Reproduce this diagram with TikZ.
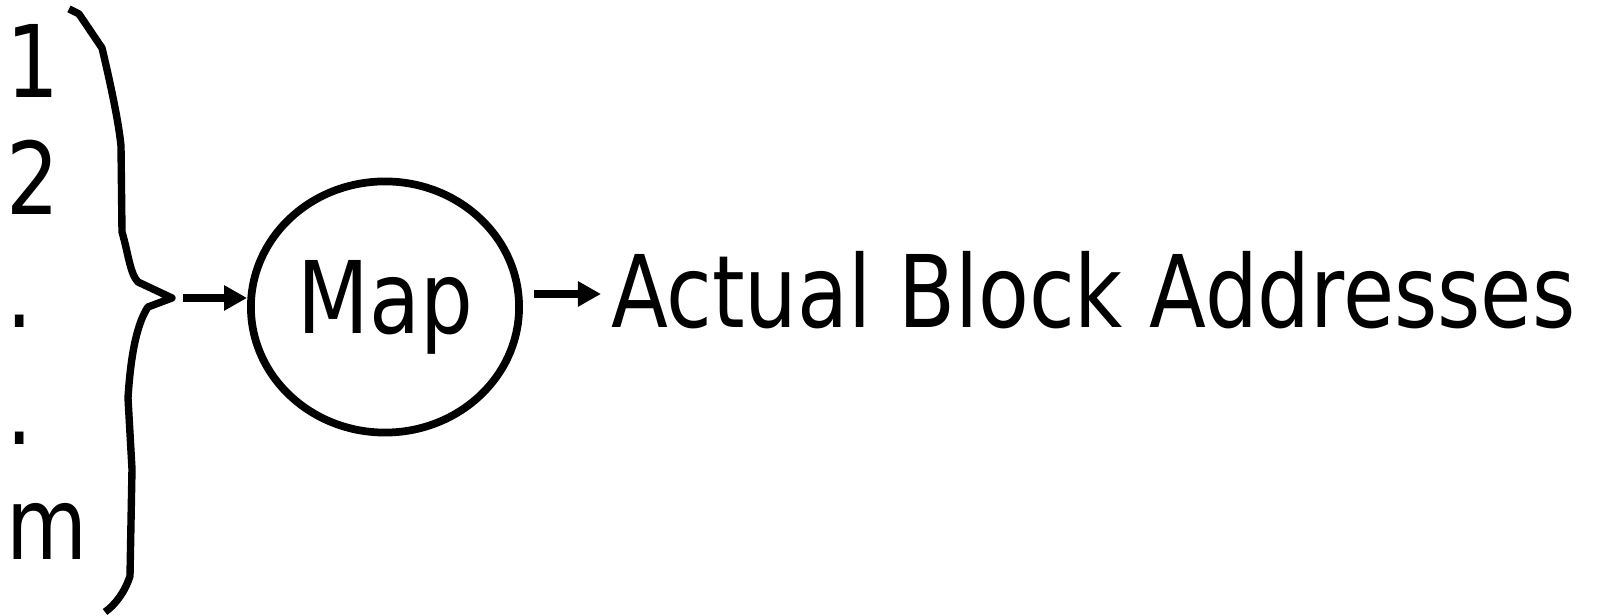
\documentclass[tikz,border=0pt]{standalone}
\usepackage{fontspec}
\setmainfont{DejaVu Sans}[FakeStretch=0.83]
\usetikzlibrary{arrows.meta,shapes.geometric}
\tikzset{
  txt/.style={inner sep=0pt,outer sep=0pt,anchor=base west,font=\fontsize{28.5}{34}\selectfont},
  bracel/.style={line width=2.1pt,line join=round},
  arr/.style={line width=2.4pt,-{Triangle[length=0.23cm,width=0.24cm]}},
  mapnode/.style={ellipse,draw,line width=2.2pt,minimum width=2.68cm,minimum height=2.51cm,inner sep=0pt,font=\fontsize{28.5}{34}\selectfont}
}
\begin{document}
\begin{tikzpicture}[x=0.01cm,y=-0.01cm]
\useasboundingbox (0,0) rectangle (1599,616);
% index column
\node[txt] (n1) at (7,98) {1};
\node[txt] (n2) at (6,215) {2};
\node[txt] (d1) at (7,328) {.};
\node[txt] (d2) at (7,445) {.};
\node[txt] (nm) at (7,560) {m};
% brace
\draw[bracel] (69,9) -- (79,14) -- (102,48)
  .. controls (112,90) and (119,125) .. (121,146) -- (122,232)
  .. controls (128,252) and (130,274) .. (138,282) -- (172,298) -- (148,307)
  .. controls (138,322) and (131,350) .. (128,398) -- (132,469) -- (130,576)
  .. controls (125,592) and (115,605) .. (105,612);
\coordinate (bt) at (183,298);
% map
\node[mapnode] (map) at (385,307) {Map};
\node[txt] (actual) at (611,328) {Actual Block Addresses};
\coordinate (a2) at (534,294);
\draw[arr] (bt) -- (bt -| map.west);
\draw[arr,shorten >=0.10cm] (a2) -- (a2 -| actual.west);
\end{tikzpicture}
\end{document}
